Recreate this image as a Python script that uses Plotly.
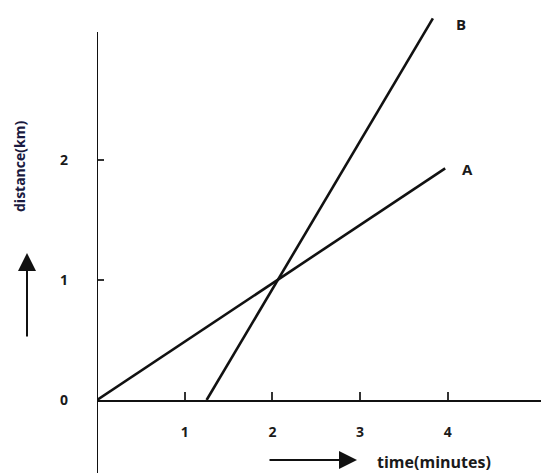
import plotly.graph_objects as go

# data
a_x = [0, 3.97]
a_y = [0, 1.93]
b_x = [1.25, 3.83]
b_y = [0, 3.18]
x_ticks = [1, 2, 3, 4]
y_ticks = [0, 1, 2]
line_names = ["A", "B"]

OFF = 8  # page body margin
W, H = 549 - OFF, 473 - OFF
ML, MR, MT = 97 - OFF, 0, 0
MB = H - (400 - OFF)
XU, YU = 87.7, 120.0
pw, ph = W - ML - MR, H - MT - MB

FONT = "Open Sans"
TXT = "#1a1a1a"

fig = go.Figure()
fig.add_trace(go.Scatter(x=a_x, y=a_y, mode="lines", line=dict(color="#111", width=2.6), showlegend=False, hoverinfo="skip"))
fig.add_trace(go.Scatter(x=b_x, y=b_y, mode="lines", line=dict(color="#111", width=2.6), showlegend=False, hoverinfo="skip"))

# line labels
fig.add_annotation(x=a_x[-1], y=a_y[-1], text="<b>%s</b>" % line_names[0], showarrow=False,
                   xanchor="left", xshift=15, yshift=-1, font=dict(family=FONT, size=15, color=TXT))
fig.add_annotation(x=b_x[-1], y=b_y[-1], text="<b>%s</b>" % line_names[1], showarrow=False,
                   xanchor="left", xshift=21, yshift=-6, font=dict(family=FONT, size=15, color=TXT))

def px(xp):  # page pixel -> paper x
    return (xp - OFF - ML) / pw

def py(yp):  # page pixel -> paper y
    return (H - MB - (yp - OFF)) / ph

# vertical axis line (extends below x axis)
fig.add_shape(type="line", xref="x", yref="paper", x0=0, x1=0, y0=py(475), y1=py(32),
              line=dict(color="#111", width=2))

# up arrow by the y label
fig.add_annotation(xref="paper", yref="paper", x=px(27), y=py(253), ax=0, ay=85,
                   text="", showarrow=True, arrowhead=2, arrowsize=1.8, arrowwidth=2, arrowcolor="#111")
# right arrow by the x label
fig.add_annotation(xref="paper", yref="paper", x=px(357), y=py(460), ax=-89, ay=0,
                   text="", showarrow=True, arrowhead=2, arrowsize=1.8, arrowwidth=2, arrowcolor="#111")

fig.add_annotation(xref="paper", yref="paper", x=px(375), y=py(462), text="<b>time(minutes)</b>",
                   showarrow=False, xanchor="left", yanchor="middle", font=dict(family=FONT, size=16, color=TXT))
fig.add_annotation(xref="paper", yref="paper", x=px(19), y=py(167), text="<b>distance(km)</b>",
                   textangle=-90, showarrow=False, xanchor="center", yanchor="middle",
                   font=dict(family=FONT, size=14, color="#1a1a40"))

fig.update_layout(
    width=W, height=H,
    margin=dict(l=ML, r=MR, t=MT, b=MB, autoexpand=False),
    paper_bgcolor="white", plot_bgcolor="white",
    xaxis=dict(range=[0, pw / XU], showgrid=False, zeroline=False, showline=True, linecolor="#111", linewidth=2,
               ticks="inside", ticklen=8, tickwidth=1.5, tickcolor="#333", tickvals=x_ticks,
               tickfont=dict(family=FONT, size=14, color=TXT, weight="bold"), ticklabelstandoff=18),
    yaxis=dict(range=[0, ph / YU], showgrid=False, zeroline=False, showline=False,
               ticks="inside", ticklen=7, tickwidth=1.5, tickcolor="#333",
               tickvals=y_ticks, tickfont=dict(family=FONT, size=14, color=TXT, weight="bold"),
               ticklabelstandoff=28),
)

fig.write_html("out.html")
